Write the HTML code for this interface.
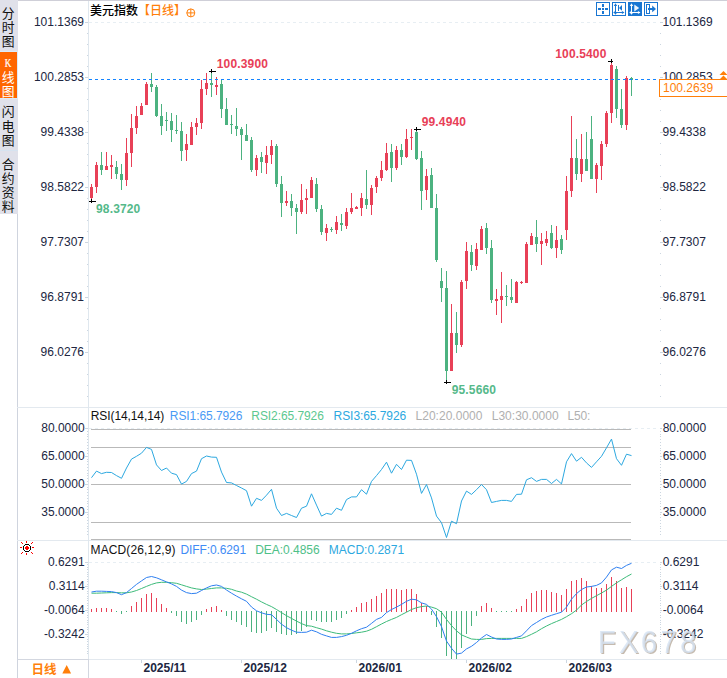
<!DOCTYPE html>
<html lang="zh"><head><meta charset="utf-8"><title>chart</title><style>html,body{margin:0;padding:0;background:#fff}</style></head><body><svg width="727" height="678" viewBox="0 0 727 678" style="display:block;font-family:'Liberation Sans',sans-serif">
<rect width="727" height="678" fill="#fff"/>
<rect x="0" y="0" width="727" height="1" fill="#cfcfd8"/>
<g shape-rendering="crispEdges">
<rect x="0" y="0" width="18" height="214" fill="#e0e1ea"/>
<rect x="0" y="51" width="18" height="1" fill="#dcebf8"/>
<rect x="0" y="52" width="17" height="46" fill="#ff6600"/>
<rect x="17" y="52" width="1" height="46" fill="#dcebf8"/>
<rect x="0" y="98" width="18" height="1" fill="#dcebf8"/>
<rect x="0" y="150" width="18" height="1" fill="#d6e3f0"/>
<rect x="17" y="214" width="1" height="464" fill="#cfd4de"/>
<rect x="17" y="407" width="710" height="1" fill="#e3e9ef"/>
<rect x="17" y="540" width="710" height="1" fill="#e3e9ef"/>
<rect x="17" y="659" width="710" height="1" fill="#e3e9ef"/>
<rect x="88" y="1" width="1" height="677" fill="#dfe7ee"/>
</g>
<g font-family="'Liberation Sans','Noto Sans CJK SC',sans-serif" font-size="12.8" fill="#111">
<text x="1.7" y="18.3">分</text>
<text x="1.7" y="31.9">时</text>
<text x="1.7" y="46">图</text>
<text x="1.7" y="81.8" fill="#fff">线</text>
<text x="1.7" y="95.8" fill="#fff">图</text>
</g>
<text transform="translate(8.1,67) scale(0.74,1)" x="0" y="0" font-family="'Liberation Serif',serif" font-size="12.3" fill="#fff" stroke="#fff" stroke-width="0.25" text-anchor="middle">K</text>
<g font-family="'Liberation Sans','Noto Sans CJK SC',sans-serif" font-size="12.8" fill="#111">
<text x="1.7" y="116">闪</text>
<text x="1.7" y="130.6">电</text>
<text x="1.7" y="144.9">图</text>
<text x="1.7" y="168.8">合</text>
<text x="1.7" y="183">约</text>
<text x="1.7" y="197">资</text>
<text x="1.7" y="211">料</text>
</g>
<text x="90" y="15" font-family="'Liberation Sans','Noto Sans CJK SC',sans-serif" font-size="12" font-weight="500" fill="#000">美元指数</text>
<text x="138" y="15" font-family="'Liberation Sans','Noto Sans CJK SC',sans-serif" font-size="12" font-weight="500" fill="#ff7f0a">【日线】</text>
<g stroke="#ff7f0a" stroke-width="1" fill="none"><circle cx="190.8" cy="12.9" r="4"/><path d="M186.8 12.9H194.8M190.8 8.9V16.9"/></g>
<rect x="596.5" y="2.5" width="13" height="13" fill="#fff" stroke="#1976d2" stroke-width="1"/>
<rect x="612.5" y="2.5" width="13" height="13" fill="#fff" stroke="#1976d2" stroke-width="1"/>
<rect x="628" y="2" width="14" height="14" fill="#1976d2"/>
<rect x="644.5" y="2.5" width="13" height="13" fill="#fff" stroke="#1976d2" stroke-width="1"/>
<g fill="#1976d2" shape-rendering="crispEdges"><rect x="602" y="4" width="2" height="3"/><rect x="602" y="11" width="2" height="3"/><rect x="598" y="8" width="3" height="2"/><rect x="605" y="8" width="3" height="2"/><rect x="602" y="8" width="2" height="2"/></g>
<g fill="#1976d2"><rect x="615" y="4" width="1" height="10" shape-rendering="crispEdges"/><rect x="614" y="12" width="10" height="1" shape-rendering="crispEdges"/><path d="M615.5 3.3L617.2 5.9H613.8Z M624.5 12.5L621.9 10.9V14.1Z M615.5 14.8L614.2 13H616.8Z M613.2 12.5L615 11.2V13.8Z"/></g>
<g fill="#1976d2"><rect x="618" y="5" width="1" height="6" shape-rendering="crispEdges"/><path d="M619 7.9L622 5V10.8Z"/></g>
<g fill="#fff"><rect x="631" y="4" width="1" height="10" shape-rendering="crispEdges"/><rect x="630" y="12" width="10" height="1" shape-rendering="crispEdges"/><path d="M631.5 3.3L633.2 5.9H629.8Z M640.5 12.5L637.9 10.9V14.1Z M631.5 14.8L630.2 13H632.8Z M629.2 12.5L631 11.2V13.8Z"/></g>
<path d="M634.3 4.4V11.6L639.2 8Z" fill="#fff" opacity="0.92"/>
<g shape-rendering="crispEdges"><rect x="646.5" y="4.5" width="3" height="9" fill="none" stroke="#1976d2" stroke-width="1"/><rect x="648" y="8" width="5" height="2" fill="#1976d2"/></g><path d="M652.2 5.5V12.2L656 8.9Z" fill="#1976d2"/>
<path d="M89 22.5H659" stroke="#e7eef3" stroke-width="1" stroke-dasharray="3 3" fill="none"/>
<path d="M89 562.5H659" stroke="#e7eef3" stroke-width="1" stroke-dasharray="3 3" fill="none"/>
<path d="M89 428.5H659" stroke="#e7eef3" stroke-width="1" stroke-dasharray="3 3" fill="none"/>
<g fill="#ccd6e0" shape-rendering="crispEdges">
<rect x="85" y="22" width="3" height="1"/><rect x="660" y="22" width="3" height="1"/>
<rect x="87" y="33" width="1" height="1"/><rect x="660" y="33" width="1" height="1"/>
<rect x="87" y="44" width="1" height="1"/><rect x="660" y="44" width="1" height="1"/>
<rect x="87" y="55" width="1" height="1"/><rect x="660" y="55" width="1" height="1"/>
<rect x="87" y="66" width="1" height="1"/><rect x="660" y="66" width="1" height="1"/>
<rect x="85" y="77" width="3" height="1"/><rect x="660" y="77" width="3" height="1"/>
<rect x="87" y="88" width="1" height="1"/><rect x="660" y="88" width="1" height="1"/>
<rect x="87" y="99" width="1" height="1"/><rect x="660" y="99" width="1" height="1"/>
<rect x="87" y="110" width="1" height="1"/><rect x="660" y="110" width="1" height="1"/>
<rect x="87" y="121" width="1" height="1"/><rect x="660" y="121" width="1" height="1"/>
<rect x="85" y="132" width="3" height="1"/><rect x="660" y="132" width="3" height="1"/>
<rect x="87" y="143" width="1" height="1"/><rect x="660" y="143" width="1" height="1"/>
<rect x="87" y="154" width="1" height="1"/><rect x="660" y="154" width="1" height="1"/>
<rect x="87" y="165" width="1" height="1"/><rect x="660" y="165" width="1" height="1"/>
<rect x="87" y="176" width="1" height="1"/><rect x="660" y="176" width="1" height="1"/>
<rect x="85" y="187" width="3" height="1"/><rect x="660" y="187" width="3" height="1"/>
<rect x="87" y="198" width="1" height="1"/><rect x="660" y="198" width="1" height="1"/>
<rect x="87" y="209" width="1" height="1"/><rect x="660" y="209" width="1" height="1"/>
<rect x="87" y="220" width="1" height="1"/><rect x="660" y="220" width="1" height="1"/>
<rect x="87" y="231" width="1" height="1"/><rect x="660" y="231" width="1" height="1"/>
<rect x="85" y="242" width="3" height="1"/><rect x="660" y="242" width="3" height="1"/>
<rect x="87" y="253" width="1" height="1"/><rect x="660" y="253" width="1" height="1"/>
<rect x="87" y="264" width="1" height="1"/><rect x="660" y="264" width="1" height="1"/>
<rect x="87" y="275" width="1" height="1"/><rect x="660" y="275" width="1" height="1"/>
<rect x="87" y="286" width="1" height="1"/><rect x="660" y="286" width="1" height="1"/>
<rect x="85" y="297" width="3" height="1"/><rect x="660" y="297" width="3" height="1"/>
<rect x="87" y="308" width="1" height="1"/><rect x="660" y="308" width="1" height="1"/>
<rect x="87" y="319" width="1" height="1"/><rect x="660" y="319" width="1" height="1"/>
<rect x="87" y="330" width="1" height="1"/><rect x="660" y="330" width="1" height="1"/>
<rect x="87" y="341" width="1" height="1"/><rect x="660" y="341" width="1" height="1"/>
<rect x="85" y="352" width="3" height="1"/><rect x="660" y="352" width="3" height="1"/>
<rect x="87" y="363" width="1" height="1"/><rect x="660" y="363" width="1" height="1"/>
<rect x="87" y="374" width="1" height="1"/><rect x="660" y="374" width="1" height="1"/>
<rect x="87" y="385" width="1" height="1"/><rect x="660" y="385" width="1" height="1"/>
<rect x="87" y="396" width="1" height="1"/><rect x="660" y="396" width="1" height="1"/>
</g>
<g font-size="12" fill="#20263f">
<text x="84" y="26" text-anchor="end">101.1369</text>
<text x="662.5" y="26">101.1369</text>
<text x="84" y="81" text-anchor="end">100.2853</text>
<text x="662.5" y="81">100.2853</text>
<text x="84" y="136" text-anchor="end">99.4338</text>
<text x="662.5" y="136">99.4338</text>
<text x="84" y="191" text-anchor="end">98.5822</text>
<text x="662.5" y="191">98.5822</text>
<text x="84" y="246" text-anchor="end">97.7307</text>
<text x="662.5" y="246">97.7307</text>
<text x="84" y="301" text-anchor="end">96.8791</text>
<text x="662.5" y="301">96.8791</text>
<text x="84" y="356" text-anchor="end">96.0276</text>
<text x="662.5" y="356">96.0276</text>
</g>
<g shape-rendering="crispEdges">
<rect x="91" y="184" width="1" height="17" fill="#e84057"/><rect x="90" y="187" width="3" height="11" fill="#e84057"/>
<rect x="96" y="162" width="1" height="31" fill="#e84057"/><rect x="95" y="165" width="3" height="22" fill="#e84057"/>
<rect x="101" y="152" width="1" height="23" fill="#4cb280"/><rect x="100" y="165" width="3" height="5" fill="#4cb280"/>
<rect x="106" y="152" width="1" height="18" fill="#e84057"/><rect x="105" y="166" width="3" height="4" fill="#e84057"/>
<rect x="111" y="155" width="1" height="24" fill="#e84057"/><rect x="110" y="165" width="3" height="2" fill="#e84057"/>
<rect x="116" y="161" width="1" height="18" fill="#4cb280"/><rect x="115" y="167" width="3" height="7" fill="#4cb280"/>
<rect x="121" y="164" width="1" height="26" fill="#4cb280"/><rect x="120" y="174" width="3" height="6" fill="#4cb280"/>
<rect x="126" y="138" width="1" height="48" fill="#e84057"/><rect x="125" y="153" width="3" height="27" fill="#e84057"/>
<rect x="131" y="114" width="1" height="53" fill="#e84057"/><rect x="130" y="128" width="3" height="25" fill="#e84057"/>
<rect x="136" y="106" width="1" height="28" fill="#e84057"/><rect x="135" y="116" width="3" height="12" fill="#e84057"/>
<rect x="141" y="103" width="1" height="12" fill="#e84057"/><rect x="140" y="106" width="3" height="9" fill="#e84057"/>
<rect x="146" y="82" width="1" height="23" fill="#e84057"/><rect x="145" y="84" width="3" height="21" fill="#e84057"/>
<rect x="151" y="73" width="1" height="19" fill="#4cb280"/><rect x="150" y="84" width="3" height="3" fill="#4cb280"/>
<rect x="156" y="85" width="1" height="32" fill="#4cb280"/><rect x="155" y="87" width="3" height="29" fill="#4cb280"/>
<rect x="161" y="104" width="1" height="31" fill="#4cb280"/><rect x="160" y="116" width="3" height="10" fill="#4cb280"/>
<rect x="166" y="112" width="1" height="19" fill="#4cb280"/><rect x="165" y="120" width="3" height="1" fill="#4cb280"/>
<rect x="171" y="113" width="1" height="29" fill="#4cb280"/><rect x="170" y="121" width="3" height="9" fill="#4cb280"/>
<rect x="176" y="115" width="1" height="19" fill="#4cb280"/><rect x="175" y="130" width="3" height="1" fill="#4cb280"/>
<rect x="181" y="122" width="1" height="39" fill="#4cb280"/><rect x="180" y="131" width="3" height="20" fill="#4cb280"/>
<rect x="186" y="134" width="1" height="27" fill="#e84057"/><rect x="185" y="144" width="3" height="6" fill="#e84057"/>
<rect x="191" y="122" width="1" height="23" fill="#e84057"/><rect x="190" y="127" width="3" height="18" fill="#e84057"/>
<rect x="196" y="118" width="1" height="17" fill="#e84057"/><rect x="195" y="123" width="3" height="4" fill="#e84057"/>
<rect x="201" y="80" width="1" height="49" fill="#e84057"/><rect x="200" y="89" width="3" height="34" fill="#e84057"/>
<rect x="206" y="73" width="1" height="22" fill="#e84057"/><rect x="205" y="83" width="3" height="6" fill="#e84057"/>
<rect x="211" y="71" width="1" height="26" fill="#4cb280"/><rect x="210" y="83" width="3" height="2" fill="#4cb280"/>
<rect x="216" y="77" width="1" height="18" fill="#e84057"/><rect x="215" y="85" width="3" height="2" fill="#e84057"/>
<rect x="221" y="80" width="1" height="38" fill="#4cb280"/><rect x="220" y="84" width="3" height="25" fill="#4cb280"/>
<rect x="226" y="98" width="1" height="27" fill="#4cb280"/><rect x="225" y="109" width="3" height="16" fill="#4cb280"/>
<rect x="231" y="115" width="1" height="19" fill="#4cb280"/><rect x="230" y="124" width="3" height="1" fill="#4cb280"/>
<rect x="236" y="108" width="1" height="28" fill="#4cb280"/><rect x="235" y="126" width="3" height="3" fill="#4cb280"/>
<rect x="241" y="127" width="1" height="33" fill="#4cb280"/><rect x="240" y="129" width="3" height="6" fill="#4cb280"/>
<rect x="246" y="124" width="1" height="17" fill="#4cb280"/><rect x="245" y="135" width="3" height="6" fill="#4cb280"/>
<rect x="251" y="137" width="1" height="35" fill="#4cb280"/><rect x="250" y="140" width="3" height="30" fill="#4cb280"/>
<rect x="256" y="155" width="1" height="21" fill="#e84057"/><rect x="255" y="158" width="3" height="12" fill="#e84057"/>
<rect x="261" y="152" width="1" height="21" fill="#4cb280"/><rect x="260" y="157" width="3" height="5" fill="#4cb280"/>
<rect x="266" y="146" width="1" height="28" fill="#e84057"/><rect x="265" y="155" width="3" height="8" fill="#e84057"/>
<rect x="271" y="140" width="1" height="24" fill="#e84057"/><rect x="270" y="146" width="3" height="9" fill="#e84057"/>
<rect x="276" y="144" width="1" height="43" fill="#4cb280"/><rect x="275" y="146" width="3" height="38" fill="#4cb280"/>
<rect x="281" y="176" width="1" height="41" fill="#4cb280"/><rect x="280" y="184" width="3" height="19" fill="#4cb280"/>
<rect x="286" y="191" width="1" height="15" fill="#e84057"/><rect x="285" y="201" width="3" height="2" fill="#e84057"/>
<rect x="291" y="194" width="1" height="22" fill="#4cb280"/><rect x="290" y="201" width="3" height="7" fill="#4cb280"/>
<rect x="296" y="204" width="1" height="30" fill="#4cb280"/><rect x="295" y="208" width="3" height="4" fill="#4cb280"/>
<rect x="301" y="184" width="1" height="30" fill="#e84057"/><rect x="300" y="200" width="3" height="12" fill="#e84057"/>
<rect x="306" y="189" width="1" height="25" fill="#e84057"/><rect x="305" y="198" width="3" height="2" fill="#e84057"/>
<rect x="311" y="177" width="1" height="21" fill="#e84057"/><rect x="310" y="180" width="3" height="18" fill="#e84057"/>
<rect x="316" y="178" width="1" height="34" fill="#4cb280"/><rect x="315" y="184" width="3" height="25" fill="#4cb280"/>
<rect x="321" y="205" width="1" height="30" fill="#4cb280"/><rect x="320" y="209" width="3" height="23" fill="#4cb280"/>
<rect x="326" y="224" width="1" height="17" fill="#e84057"/><rect x="325" y="228" width="3" height="5" fill="#e84057"/>
<rect x="331" y="227" width="1" height="5" fill="#4cb280"/><rect x="330" y="229" width="3" height="1" fill="#4cb280"/>
<rect x="336" y="216" width="1" height="18" fill="#e84057"/><rect x="335" y="222" width="3" height="8" fill="#e84057"/>
<rect x="341" y="214" width="1" height="17" fill="#4cb280"/><rect x="340" y="223" width="3" height="2" fill="#4cb280"/>
<rect x="346" y="208" width="1" height="21" fill="#e84057"/><rect x="345" y="212" width="3" height="14" fill="#e84057"/>
<rect x="351" y="193" width="1" height="21" fill="#e84057"/><rect x="350" y="208" width="3" height="4" fill="#e84057"/>
<rect x="356" y="206" width="1" height="3" fill="#e84057"/><rect x="355" y="207" width="3" height="2" fill="#e84057"/>
<rect x="361" y="193" width="1" height="23" fill="#e84057"/><rect x="360" y="198" width="3" height="10" fill="#e84057"/>
<rect x="366" y="170" width="1" height="39" fill="#4cb280"/><rect x="365" y="199" width="3" height="6" fill="#4cb280"/>
<rect x="371" y="185" width="1" height="30" fill="#e84057"/><rect x="370" y="188" width="3" height="17" fill="#e84057"/>
<rect x="376" y="176" width="1" height="17" fill="#e84057"/><rect x="375" y="178" width="3" height="9" fill="#e84057"/>
<rect x="381" y="161" width="1" height="20" fill="#e84057"/><rect x="380" y="170" width="3" height="8" fill="#e84057"/>
<rect x="386" y="143" width="1" height="28" fill="#e84057"/><rect x="385" y="153" width="3" height="17" fill="#e84057"/>
<rect x="391" y="144" width="1" height="38" fill="#4cb280"/><rect x="390" y="152" width="3" height="16" fill="#4cb280"/>
<rect x="396" y="146" width="1" height="24" fill="#e84057"/><rect x="395" y="150" width="3" height="18" fill="#e84057"/>
<rect x="401" y="144" width="1" height="21" fill="#4cb280"/><rect x="400" y="150" width="3" height="7" fill="#4cb280"/>
<rect x="406" y="129" width="1" height="29" fill="#e84057"/><rect x="405" y="139" width="3" height="18" fill="#e84057"/>
<rect x="411" y="129" width="1" height="21" fill="#e84057"/><rect x="410" y="137" width="3" height="1" fill="#e84057"/>
<rect x="416" y="130" width="1" height="30" fill="#4cb280"/><rect x="415" y="132" width="3" height="27" fill="#4cb280"/>
<rect x="421" y="151" width="1" height="59" fill="#4cb280"/><rect x="420" y="158" width="3" height="33" fill="#4cb280"/>
<rect x="426" y="169" width="1" height="31" fill="#e84057"/><rect x="425" y="176" width="3" height="14" fill="#e84057"/>
<rect x="431" y="168" width="1" height="40" fill="#4cb280"/><rect x="430" y="175" width="3" height="33" fill="#4cb280"/>
<rect x="436" y="194" width="1" height="68" fill="#4cb280"/><rect x="435" y="208" width="3" height="52" fill="#4cb280"/>
<rect x="441" y="268" width="1" height="34" fill="#4cb280"/><rect x="440" y="281" width="3" height="7" fill="#4cb280"/>
<rect x="446" y="271" width="1" height="111" fill="#4cb280"/><rect x="445" y="288" width="3" height="83" fill="#4cb280"/>
<rect x="451" y="304" width="1" height="67" fill="#e84057"/><rect x="450" y="333" width="3" height="38" fill="#e84057"/>
<rect x="456" y="312" width="1" height="41" fill="#4cb280"/><rect x="455" y="333" width="3" height="12" fill="#4cb280"/>
<rect x="461" y="280" width="1" height="67" fill="#e84057"/><rect x="460" y="282" width="3" height="63" fill="#e84057"/>
<rect x="466" y="242" width="1" height="47" fill="#e84057"/><rect x="465" y="251" width="3" height="30" fill="#e84057"/>
<rect x="471" y="245" width="1" height="26" fill="#4cb280"/><rect x="470" y="252" width="3" height="13" fill="#4cb280"/>
<rect x="476" y="243" width="1" height="27" fill="#e84057"/><rect x="475" y="249" width="3" height="17" fill="#e84057"/>
<rect x="481" y="226" width="1" height="24" fill="#e84057"/><rect x="480" y="229" width="3" height="21" fill="#e84057"/>
<rect x="486" y="223" width="1" height="31" fill="#4cb280"/><rect x="485" y="228" width="3" height="20" fill="#4cb280"/>
<rect x="491" y="240" width="1" height="63" fill="#4cb280"/><rect x="490" y="248" width="3" height="52" fill="#4cb280"/>
<rect x="496" y="289" width="1" height="26" fill="#e84057"/><rect x="495" y="299" width="3" height="2" fill="#e84057"/>
<rect x="501" y="272" width="1" height="51" fill="#e84057"/><rect x="500" y="296" width="3" height="4" fill="#e84057"/>
<rect x="506" y="285" width="1" height="21" fill="#4cb280"/><rect x="505" y="296" width="3" height="1" fill="#4cb280"/>
<rect x="511" y="279" width="1" height="24" fill="#4cb280"/><rect x="510" y="297" width="3" height="3" fill="#4cb280"/>
<rect x="516" y="281" width="1" height="22" fill="#e84057"/><rect x="515" y="282" width="3" height="21" fill="#e84057"/>
<rect x="521" y="281" width="1" height="3" fill="#e84057"/><rect x="520" y="282" width="3" height="1" fill="#e84057"/>
<rect x="526" y="242" width="1" height="41" fill="#e84057"/><rect x="525" y="244" width="3" height="39" fill="#e84057"/>
<rect x="531" y="233" width="1" height="12" fill="#e84057"/><rect x="530" y="236" width="3" height="9" fill="#e84057"/>
<rect x="536" y="220" width="1" height="32" fill="#4cb280"/><rect x="535" y="237" width="3" height="7" fill="#4cb280"/>
<rect x="541" y="233" width="1" height="32" fill="#e84057"/><rect x="540" y="241" width="3" height="3" fill="#e84057"/>
<rect x="546" y="231" width="1" height="15" fill="#e84057"/><rect x="545" y="239" width="3" height="4" fill="#e84057"/>
<rect x="551" y="225" width="1" height="24" fill="#4cb280"/><rect x="550" y="233" width="3" height="15" fill="#4cb280"/>
<rect x="556" y="226" width="1" height="32" fill="#e84057"/><rect x="555" y="240" width="3" height="8" fill="#e84057"/>
<rect x="561" y="235" width="1" height="19" fill="#4cb280"/><rect x="560" y="239" width="3" height="11" fill="#4cb280"/>
<rect x="566" y="176" width="1" height="64" fill="#e84057"/><rect x="565" y="191" width="3" height="39" fill="#e84057"/>
<rect x="571" y="116" width="1" height="81" fill="#e84057"/><rect x="570" y="158" width="3" height="33" fill="#e84057"/>
<rect x="576" y="139" width="1" height="41" fill="#4cb280"/><rect x="575" y="158" width="3" height="16" fill="#4cb280"/>
<rect x="581" y="134" width="1" height="48" fill="#e84057"/><rect x="580" y="159" width="3" height="15" fill="#e84057"/>
<rect x="586" y="132" width="1" height="39" fill="#4cb280"/><rect x="585" y="159" width="3" height="12" fill="#4cb280"/>
<rect x="591" y="116" width="1" height="63" fill="#4cb280"/><rect x="590" y="139" width="3" height="40" fill="#4cb280"/>
<rect x="596" y="163" width="1" height="30" fill="#e84057"/><rect x="595" y="165" width="3" height="14" fill="#e84057"/>
<rect x="601" y="141" width="1" height="39" fill="#e84057"/><rect x="600" y="144" width="3" height="22" fill="#e84057"/>
<rect x="606" y="111" width="1" height="36" fill="#e84057"/><rect x="605" y="113" width="3" height="31" fill="#e84057"/>
<rect x="611" y="61" width="1" height="62" fill="#e84057"/><rect x="610" y="65" width="3" height="48" fill="#e84057"/>
<rect x="616" y="66" width="1" height="52" fill="#4cb280"/><rect x="615" y="69" width="3" height="40" fill="#4cb280"/>
<rect x="621" y="89" width="1" height="39" fill="#4cb280"/><rect x="620" y="109" width="3" height="16" fill="#4cb280"/>
<rect x="626" y="76" width="1" height="54" fill="#e84057"/><rect x="625" y="78" width="3" height="47" fill="#e84057"/>
<rect x="631" y="77" width="1" height="19" fill="#4cb280"/><rect x="630" y="78" width="3" height="2" fill="#4cb280"/>
</g>
<path d="M89 79.5H657" stroke="#1484ff" stroke-width="1" stroke-dasharray="3 3" fill="none" shape-rendering="crispEdges"/>
<rect x="659.5" y="79.5" width="70" height="17" fill="#fff" stroke="#ff7f0a" stroke-width="1"/>
<text x="663" y="92" font-size="12" fill="#ff7f0a">100.2639</text>
<path d="M719.5 75L723.5 71L727.5 75Z M719.5 79.4L723.5 75.4L727.5 79.4Z" fill="#ff7f0a"/>
<g fill="#000" shape-rendering="crispEdges"><rect x="89" y="201" width="7" height="1"/><rect x="91" y="199" width="1" height="4"/></g>
<text x="96" y="212.6" font-size="12" font-weight="bold" letter-spacing="0.15" fill="#55b98a" text-anchor="start" stroke="#fff" stroke-width="2" stroke-opacity="0.7" paint-order="stroke">98.3720</text>
<g fill="#000" shape-rendering="crispEdges"><rect x="209" y="71" width="7" height="1"/><rect x="211" y="69" width="1" height="4"/></g>
<text x="216.8" y="67.8" font-size="12" font-weight="bold" letter-spacing="0.15" fill="#e84057" text-anchor="start" stroke="#fff" stroke-width="2" stroke-opacity="0.7" paint-order="stroke">100.3900</text>
<g fill="#000" shape-rendering="crispEdges"><rect x="414" y="129" width="7" height="1"/><rect x="416" y="127" width="1" height="4"/></g>
<text x="421.7" y="125.5" font-size="12" font-weight="bold" letter-spacing="0.15" fill="#e84057" text-anchor="start" stroke="#fff" stroke-width="2" stroke-opacity="0.7" paint-order="stroke">99.4940</text>
<g fill="#000" shape-rendering="crispEdges"><rect x="444" y="382" width="7" height="1"/><rect x="446" y="380" width="1" height="4"/></g>
<text x="451.7" y="394" font-size="12" font-weight="bold" letter-spacing="0.15" fill="#55b98a" text-anchor="start" stroke="#fff" stroke-width="2" stroke-opacity="0.7" paint-order="stroke">95.5660</text>
<g fill="#000" shape-rendering="crispEdges"><rect x="608" y="61" width="5" height="1"/><rect x="611" y="59" width="1" height="4"/></g>
<text x="606.5" y="57.7" font-size="12" font-weight="bold" letter-spacing="0.15" fill="#e84057" text-anchor="end" stroke="#fff" stroke-width="2" stroke-opacity="0.7" paint-order="stroke">100.5400</text>
<g fill="#b9b9b9" shape-rendering="crispEdges">
<rect x="91" y="429" width="540" height="1"/>
<rect x="91" y="447" width="540" height="1"/>
<rect x="91" y="484" width="540" height="1"/>
<rect x="91" y="522" width="540" height="1"/>
<rect x="91" y="539" width="540" height="1"/>
</g>
<polyline points="91.5,477.7 96.5,471.1 101.5,473.6 106.5,472.3 111.5,472.5 116.5,475.6 121.5,478.3 126.5,468.0 131.5,459.1 136.5,456.3 141.5,453.2 146.5,447.4 151.5,449.4 156.5,464.9 161.5,470.5 166.5,468.0 171.5,473.2 176.5,474.6 181.5,484.1 186.5,481.4 191.5,473.6 196.5,471.1 201.5,458.7 206.5,456.0 211.5,457.1 216.5,457.3 221.5,472.1 226.5,482.5 231.5,482.9 236.5,485.5 241.5,488.0 246.5,490.7 251.5,506.2 256.5,498.3 261.5,500.4 266.5,495.2 271.5,489.3 276.5,508.2 281.5,515.5 286.5,513.4 291.5,515.5 296.5,517.5 301.5,508.2 306.5,506.2 311.5,493.8 316.5,505.1 321.5,516.1 326.5,513.4 331.5,514.4 336.5,508.2 341.5,510.3 346.5,499.6 351.5,496.9 356.5,496.9 361.5,489.7 366.5,494.2 371.5,481.4 376.5,475.6 381.5,469.5 386.5,462.2 391.5,473.2 396.5,464.3 401.5,469.5 406.5,460.2 411.5,460.4 416.5,474.2 421.5,493.4 426.5,484.5 431.5,497.9 436.5,516.1 441.5,522.7 446.5,537.5 451.5,521.2 456.5,523.7 461.5,501.0 466.5,491.1 471.5,494.4 476.5,489.7 481.5,484.5 486.5,489.7 491.5,502.5 496.5,501.4 501.5,500.4 506.5,500.4 511.5,501.4 516.5,494.4 521.5,494.2 526.5,479.8 531.5,477.7 536.5,481.4 541.5,479.4 546.5,479.4 551.5,483.5 556.5,479.4 561.5,483.9 566.5,461.8 571.5,453.6 576.5,461.2 581.5,457.3 586.5,462.9 591.5,467.4 596.5,461.8 601.5,456.3 606.5,447.8 611.5,439.1 616.5,458.7 621.5,465.3 626.5,454.2 631.5,455.6" fill="none" stroke="#2ca8e0" stroke-width="1" stroke-linejoin="round"/>
<g font-size="12" fill="#20263f">
<text x="84.6" y="432" text-anchor="end">80.0000</text><text x="662.7" y="432">80.0000</text>
<text x="84.6" y="460" text-anchor="end">65.0000</text><text x="662.7" y="460">65.0000</text>
<text x="84.6" y="488" text-anchor="end">50.0000</text><text x="662.7" y="488">50.0000</text>
<text x="84.6" y="516" text-anchor="end">35.0000</text><text x="662.7" y="516">35.0000</text>
</g>
<g fill="#ccd6e0" shape-rendering="crispEdges">
<rect x="85" y="428" width="3" height="1"/><rect x="660" y="428" width="2" height="1"/>
<rect x="85" y="456" width="3" height="1"/><rect x="660" y="456" width="2" height="1"/>
<rect x="85" y="484" width="3" height="1"/><rect x="660" y="484" width="2" height="1"/>
<rect x="85" y="512" width="3" height="1"/><rect x="660" y="512" width="2" height="1"/>
</g>
<g font-size="12">
<text x="90.8" y="420.4" fill="#111" textLength="73.5">RSI(14,14,14)</text>
<text x="169.8" y="420.4" fill="#4a9af5" textLength="72.6">RSI1:65.7926</text>
<text x="251.3" y="420.4" fill="#5cc890" textLength="72.6">RSI2:65.7926</text>
<text x="333.6" y="420.4" fill="#2ca8e0" textLength="72.6">RSI3:65.7926</text>
<text x="415.5" y="420.4" fill="#b0b0b0" textLength="67">L20:20.0000</text>
<text x="491.7" y="420.4" fill="#b0b0b0" textLength="67">L30:30.0000</text>
<text x="567.5" y="420.4" fill="#b0b0b0" textLength="22.8">L50:</text>
</g>
<g fill="#ccd6e0" shape-rendering="crispEdges">
<rect x="87" y="428.00" width="1" height="1"/><rect x="660" y="428.00" width="1" height="1"/>
<rect x="87" y="430.79" width="1" height="1"/><rect x="660" y="430.79" width="1" height="1"/>
<rect x="87" y="433.58" width="1" height="1"/><rect x="660" y="433.58" width="1" height="1"/>
<rect x="87" y="436.37" width="1" height="1"/><rect x="660" y="436.37" width="1" height="1"/>
<rect x="87" y="439.16" width="1" height="1"/><rect x="660" y="439.16" width="1" height="1"/>
<rect x="87" y="441.95" width="1" height="1"/><rect x="660" y="441.95" width="1" height="1"/>
<rect x="87" y="444.74" width="1" height="1"/><rect x="660" y="444.74" width="1" height="1"/>
<rect x="87" y="447.53" width="1" height="1"/><rect x="660" y="447.53" width="1" height="1"/>
<rect x="87" y="450.32" width="1" height="1"/><rect x="660" y="450.32" width="1" height="1"/>
<rect x="87" y="453.11" width="1" height="1"/><rect x="660" y="453.11" width="1" height="1"/>
<rect x="87" y="455.90" width="1" height="1"/><rect x="660" y="455.90" width="1" height="1"/>
<rect x="87" y="458.69" width="1" height="1"/><rect x="660" y="458.69" width="1" height="1"/>
<rect x="87" y="461.48" width="1" height="1"/><rect x="660" y="461.48" width="1" height="1"/>
<rect x="87" y="464.27" width="1" height="1"/><rect x="660" y="464.27" width="1" height="1"/>
<rect x="87" y="467.06" width="1" height="1"/><rect x="660" y="467.06" width="1" height="1"/>
<rect x="87" y="469.85" width="1" height="1"/><rect x="660" y="469.85" width="1" height="1"/>
<rect x="87" y="472.64" width="1" height="1"/><rect x="660" y="472.64" width="1" height="1"/>
<rect x="87" y="475.43" width="1" height="1"/><rect x="660" y="475.43" width="1" height="1"/>
<rect x="87" y="478.22" width="1" height="1"/><rect x="660" y="478.22" width="1" height="1"/>
<rect x="87" y="481.01" width="1" height="1"/><rect x="660" y="481.01" width="1" height="1"/>
<rect x="87" y="483.80" width="1" height="1"/><rect x="660" y="483.80" width="1" height="1"/>
<rect x="87" y="486.59" width="1" height="1"/><rect x="660" y="486.59" width="1" height="1"/>
<rect x="87" y="489.38" width="1" height="1"/><rect x="660" y="489.38" width="1" height="1"/>
<rect x="87" y="492.17" width="1" height="1"/><rect x="660" y="492.17" width="1" height="1"/>
<rect x="87" y="494.96" width="1" height="1"/><rect x="660" y="494.96" width="1" height="1"/>
<rect x="87" y="497.75" width="1" height="1"/><rect x="660" y="497.75" width="1" height="1"/>
<rect x="87" y="500.54" width="1" height="1"/><rect x="660" y="500.54" width="1" height="1"/>
<rect x="87" y="503.33" width="1" height="1"/><rect x="660" y="503.33" width="1" height="1"/>
<rect x="87" y="506.12" width="1" height="1"/><rect x="660" y="506.12" width="1" height="1"/>
<rect x="87" y="508.91" width="1" height="1"/><rect x="660" y="508.91" width="1" height="1"/>
<rect x="87" y="511.70" width="1" height="1"/><rect x="660" y="511.70" width="1" height="1"/>
<rect x="87" y="514.49" width="1" height="1"/><rect x="660" y="514.49" width="1" height="1"/>
<rect x="87" y="517.28" width="1" height="1"/><rect x="660" y="517.28" width="1" height="1"/>
<rect x="87" y="520.07" width="1" height="1"/><rect x="660" y="520.07" width="1" height="1"/>
<rect x="87" y="522.86" width="1" height="1"/><rect x="660" y="522.86" width="1" height="1"/>
<rect x="87" y="525.65" width="1" height="1"/><rect x="660" y="525.65" width="1" height="1"/>
<rect x="87" y="528.44" width="1" height="1"/><rect x="660" y="528.44" width="1" height="1"/>
<rect x="87" y="531.23" width="1" height="1"/><rect x="660" y="531.23" width="1" height="1"/>
<rect x="87" y="534.02" width="1" height="1"/><rect x="660" y="534.02" width="1" height="1"/>
<rect x="87" y="562.00" width="1" height="1"/><rect x="660" y="562.00" width="1" height="1"/>
<rect x="87" y="564.40" width="1" height="1"/><rect x="660" y="564.40" width="1" height="1"/>
<rect x="87" y="566.80" width="1" height="1"/><rect x="660" y="566.80" width="1" height="1"/>
<rect x="87" y="569.20" width="1" height="1"/><rect x="660" y="569.20" width="1" height="1"/>
<rect x="87" y="571.60" width="1" height="1"/><rect x="660" y="571.60" width="1" height="1"/>
<rect x="87" y="574.00" width="1" height="1"/><rect x="660" y="574.00" width="1" height="1"/>
<rect x="87" y="576.40" width="1" height="1"/><rect x="660" y="576.40" width="1" height="1"/>
<rect x="87" y="578.80" width="1" height="1"/><rect x="660" y="578.80" width="1" height="1"/>
<rect x="87" y="581.20" width="1" height="1"/><rect x="660" y="581.20" width="1" height="1"/>
<rect x="87" y="583.60" width="1" height="1"/><rect x="660" y="583.60" width="1" height="1"/>
<rect x="87" y="586.00" width="1" height="1"/><rect x="660" y="586.00" width="1" height="1"/>
<rect x="87" y="588.40" width="1" height="1"/><rect x="660" y="588.40" width="1" height="1"/>
<rect x="87" y="590.80" width="1" height="1"/><rect x="660" y="590.80" width="1" height="1"/>
<rect x="87" y="593.20" width="1" height="1"/><rect x="660" y="593.20" width="1" height="1"/>
<rect x="87" y="595.60" width="1" height="1"/><rect x="660" y="595.60" width="1" height="1"/>
<rect x="87" y="598.00" width="1" height="1"/><rect x="660" y="598.00" width="1" height="1"/>
<rect x="87" y="600.40" width="1" height="1"/><rect x="660" y="600.40" width="1" height="1"/>
<rect x="87" y="602.80" width="1" height="1"/><rect x="660" y="602.80" width="1" height="1"/>
<rect x="87" y="605.20" width="1" height="1"/><rect x="660" y="605.20" width="1" height="1"/>
<rect x="87" y="607.60" width="1" height="1"/><rect x="660" y="607.60" width="1" height="1"/>
<rect x="87" y="610.00" width="1" height="1"/><rect x="660" y="610.00" width="1" height="1"/>
<rect x="87" y="612.40" width="1" height="1"/><rect x="660" y="612.40" width="1" height="1"/>
<rect x="87" y="614.80" width="1" height="1"/><rect x="660" y="614.80" width="1" height="1"/>
<rect x="87" y="617.20" width="1" height="1"/><rect x="660" y="617.20" width="1" height="1"/>
<rect x="87" y="619.60" width="1" height="1"/><rect x="660" y="619.60" width="1" height="1"/>
<rect x="87" y="622.00" width="1" height="1"/><rect x="660" y="622.00" width="1" height="1"/>
<rect x="87" y="624.40" width="1" height="1"/><rect x="660" y="624.40" width="1" height="1"/>
<rect x="87" y="626.80" width="1" height="1"/><rect x="660" y="626.80" width="1" height="1"/>
<rect x="87" y="629.20" width="1" height="1"/><rect x="660" y="629.20" width="1" height="1"/>
<rect x="87" y="631.60" width="1" height="1"/><rect x="660" y="631.60" width="1" height="1"/>
<rect x="87" y="634.00" width="1" height="1"/><rect x="660" y="634.00" width="1" height="1"/>
<rect x="87" y="636.40" width="1" height="1"/><rect x="660" y="636.40" width="1" height="1"/>
<rect x="87" y="638.80" width="1" height="1"/><rect x="660" y="638.80" width="1" height="1"/>
<rect x="87" y="641.20" width="1" height="1"/><rect x="660" y="641.20" width="1" height="1"/>
<rect x="87" y="643.60" width="1" height="1"/><rect x="660" y="643.60" width="1" height="1"/>
<rect x="87" y="646.00" width="1" height="1"/><rect x="660" y="646.00" width="1" height="1"/>
<rect x="87" y="648.40" width="1" height="1"/><rect x="660" y="648.40" width="1" height="1"/>
<rect x="87" y="650.80" width="1" height="1"/><rect x="660" y="650.80" width="1" height="1"/>
<rect x="87" y="653.20" width="1" height="1"/><rect x="660" y="653.20" width="1" height="1"/>
</g>
<g shape-rendering="crispEdges">
<rect x="91" y="609" width="1" height="3" fill="#e84057"/>
<rect x="96" y="608" width="1" height="4" fill="#e84057"/>
<rect x="101" y="608" width="1" height="4" fill="#e84057"/>
<rect x="106" y="608" width="1" height="4" fill="#e84057"/>
<rect x="111" y="609" width="1" height="3" fill="#e84057"/>
<rect x="116" y="611" width="1" height="1" fill="#4cb280"/>
<rect x="121" y="611" width="1" height="3" fill="#4cb280"/>
<rect x="126" y="611" width="1" height="1" fill="#4cb280"/>
<rect x="131" y="606" width="1" height="6" fill="#e84057"/>
<rect x="136" y="602" width="1" height="10" fill="#e84057"/>
<rect x="141" y="598" width="1" height="14" fill="#e84057"/>
<rect x="146" y="594" width="1" height="18" fill="#e84057"/>
<rect x="151" y="593" width="1" height="19" fill="#e84057"/>
<rect x="156" y="598" width="1" height="14" fill="#e84057"/>
<rect x="161" y="604" width="1" height="8" fill="#e84057"/>
<rect x="166" y="608" width="1" height="4" fill="#e84057"/>
<rect x="171" y="611" width="1" height="2" fill="#4cb280"/>
<rect x="176" y="611" width="1" height="5" fill="#4cb280"/>
<rect x="181" y="611" width="1" height="11" fill="#4cb280"/>
<rect x="186" y="611" width="1" height="13" fill="#4cb280"/>
<rect x="191" y="611" width="1" height="11" fill="#4cb280"/>
<rect x="196" y="611" width="1" height="9" fill="#4cb280"/>
<rect x="201" y="611" width="1" height="4" fill="#4cb280"/>
<rect x="206" y="609" width="1" height="3" fill="#e84057"/>
<rect x="211" y="607" width="1" height="5" fill="#e84057"/>
<rect x="216" y="606" width="1" height="6" fill="#e84057"/>
<rect x="221" y="610" width="1" height="2" fill="#e84057"/>
<rect x="226" y="611" width="1" height="5" fill="#4cb280"/>
<rect x="231" y="611" width="1" height="9" fill="#4cb280"/>
<rect x="236" y="611" width="1" height="11" fill="#4cb280"/>
<rect x="241" y="611" width="1" height="14" fill="#4cb280"/>
<rect x="246" y="611" width="1" height="16" fill="#4cb280"/>
<rect x="251" y="611" width="1" height="21" fill="#4cb280"/>
<rect x="256" y="611" width="1" height="22" fill="#4cb280"/>
<rect x="261" y="611" width="1" height="22" fill="#4cb280"/>
<rect x="266" y="611" width="1" height="20" fill="#4cb280"/>
<rect x="271" y="611" width="1" height="17" fill="#4cb280"/>
<rect x="276" y="611" width="1" height="21" fill="#4cb280"/>
<rect x="281" y="611" width="1" height="23" fill="#4cb280"/>
<rect x="286" y="611" width="1" height="24" fill="#4cb280"/>
<rect x="291" y="611" width="1" height="24" fill="#4cb280"/>
<rect x="296" y="611" width="1" height="23" fill="#4cb280"/>
<rect x="301" y="611" width="1" height="20" fill="#4cb280"/>
<rect x="306" y="611" width="1" height="16" fill="#4cb280"/>
<rect x="311" y="611" width="1" height="9" fill="#4cb280"/>
<rect x="316" y="611" width="1" height="10" fill="#4cb280"/>
<rect x="321" y="611" width="1" height="11" fill="#4cb280"/>
<rect x="326" y="611" width="1" height="11" fill="#4cb280"/>
<rect x="331" y="611" width="1" height="11" fill="#4cb280"/>
<rect x="336" y="611" width="1" height="9" fill="#4cb280"/>
<rect x="341" y="611" width="1" height="7" fill="#4cb280"/>
<rect x="346" y="611" width="1" height="3" fill="#4cb280"/>
<rect x="351" y="610" width="1" height="2" fill="#e84057"/>
<rect x="356" y="607" width="1" height="5" fill="#e84057"/>
<rect x="361" y="603" width="1" height="9" fill="#e84057"/>
<rect x="366" y="602" width="1" height="10" fill="#e84057"/>
<rect x="371" y="599" width="1" height="13" fill="#e84057"/>
<rect x="376" y="596" width="1" height="16" fill="#e84057"/>
<rect x="381" y="593" width="1" height="19" fill="#e84057"/>
<rect x="386" y="589" width="1" height="23" fill="#e84057"/>
<rect x="391" y="589" width="1" height="23" fill="#e84057"/>
<rect x="396" y="589" width="1" height="23" fill="#e84057"/>
<rect x="401" y="590" width="1" height="22" fill="#e84057"/>
<rect x="406" y="589" width="1" height="23" fill="#e84057"/>
<rect x="411" y="589" width="1" height="23" fill="#e84057"/>
<rect x="416" y="594" width="1" height="18" fill="#e84057"/>
<rect x="421" y="603" width="1" height="9" fill="#e84057"/>
<rect x="426" y="606" width="1" height="6" fill="#e84057"/>
<rect x="431" y="611" width="1" height="4" fill="#4cb280"/>
<rect x="436" y="611" width="1" height="16" fill="#4cb280"/>
<rect x="441" y="611" width="1" height="27" fill="#4cb280"/>
<rect x="446" y="611" width="1" height="45" fill="#4cb280"/>
<rect x="451" y="611" width="1" height="48" fill="#4cb280"/>
<rect x="456" y="611" width="1" height="48" fill="#4cb280"/>
<rect x="461" y="611" width="1" height="37" fill="#4cb280"/>
<rect x="466" y="611" width="1" height="23" fill="#4cb280"/>
<rect x="471" y="611" width="1" height="15" fill="#4cb280"/>
<rect x="476" y="611" width="1" height="5" fill="#4cb280"/>
<rect x="481" y="606" width="1" height="6" fill="#e84057"/>
<rect x="486" y="603" width="1" height="9" fill="#e84057"/>
<rect x="491" y="608" width="1" height="4" fill="#e84057"/>
<rect x="496" y="611" width="1" height="1" fill="#4cb280"/>
<rect x="501" y="611" width="1" height="1" fill="#4cb280"/>
<rect x="506" y="611" width="1" height="1" fill="#4cb280"/>
<rect x="511" y="611" width="1" height="1" fill="#4cb280"/>
<rect x="516" y="609" width="1" height="3" fill="#e84057"/>
<rect x="521" y="606" width="1" height="6" fill="#e84057"/>
<rect x="526" y="599" width="1" height="13" fill="#e84057"/>
<rect x="531" y="593" width="1" height="19" fill="#e84057"/>
<rect x="536" y="591" width="1" height="21" fill="#e84057"/>
<rect x="541" y="590" width="1" height="22" fill="#e84057"/>
<rect x="546" y="590" width="1" height="22" fill="#e84057"/>
<rect x="551" y="592" width="1" height="20" fill="#e84057"/>
<rect x="556" y="593" width="1" height="19" fill="#e84057"/>
<rect x="561" y="595" width="1" height="17" fill="#e84057"/>
<rect x="566" y="589" width="1" height="23" fill="#e84057"/>
<rect x="571" y="581" width="1" height="31" fill="#e84057"/>
<rect x="576" y="580" width="1" height="32" fill="#e84057"/>
<rect x="581" y="578" width="1" height="34" fill="#e84057"/>
<rect x="586" y="581" width="1" height="31" fill="#e84057"/>
<rect x="591" y="586" width="1" height="26" fill="#e84057"/>
<rect x="596" y="588" width="1" height="24" fill="#e84057"/>
<rect x="601" y="588" width="1" height="24" fill="#e84057"/>
<rect x="606" y="584" width="1" height="28" fill="#e84057"/>
<rect x="611" y="577" width="1" height="35" fill="#e84057"/>
<rect x="616" y="581" width="1" height="31" fill="#e84057"/>
<rect x="621" y="588" width="1" height="24" fill="#e84057"/>
<rect x="626" y="587" width="1" height="25" fill="#e84057"/>
<rect x="631" y="589" width="1" height="23" fill="#e84057"/>
</g>
<polyline points="91.5,593.2 96.5,593.2 101.5,593.0 106.5,592.8 111.5,592.6 116.5,592.6 121.5,592.8 126.5,592.8 131.5,592.0 136.5,590.5 141.5,588.5 146.5,586.4 151.5,584.4 156.5,582.9 161.5,582.3 166.5,582.3 171.5,582.7 176.5,583.3 181.5,584.8 186.5,586.4 191.5,587.9 196.5,588.9 201.5,589.5 206.5,589.1 211.5,588.5 216.5,587.9 221.5,587.9 226.5,588.3 231.5,589.3 236.5,591.0 241.5,592.2 246.5,594.1 251.5,596.7 256.5,599.2 261.5,601.9 266.5,604.4 271.5,606.6 276.5,609.5 281.5,612.6 286.5,615.7 291.5,618.4 296.5,621.1 301.5,623.6 306.5,625.6 311.5,626.2 316.5,627.7 321.5,629.1 326.5,630.8 331.5,632.2 336.5,633.3 341.5,633.9 346.5,633.9 351.5,633.5 356.5,632.8 361.5,632.2 366.5,631.2 371.5,629.3 376.5,626.7 381.5,624.0 386.5,621.5 391.5,619.4 396.5,617.4 401.5,614.7 406.5,612.2 411.5,609.5 416.5,607.7 421.5,606.6 426.5,606.0 431.5,607.1 436.5,608.7 441.5,612.2 446.5,619.4 451.5,625.6 456.5,630.8 461.5,634.9 466.5,637.0 471.5,639.0 476.5,639.4 481.5,639.4 486.5,638.6 491.5,638.4 496.5,638.4 501.5,638.4 506.5,638.4 511.5,638.4 516.5,638.4 521.5,638.4 526.5,636.6 531.5,634.3 536.5,631.8 541.5,628.7 546.5,626.0 551.5,623.6 556.5,621.5 561.5,619.4 566.5,616.7 571.5,613.7 576.5,610.1 581.5,605.0 586.5,601.5 591.5,598.4 596.5,595.7 601.5,593.0 606.5,590.1 611.5,586.4 616.5,582.9 621.5,579.8 626.5,576.7 631.5,574.0" fill="none" stroke="#3dbb7a" stroke-width="1" stroke-linejoin="round"/>
<polyline points="91.5,592.0 96.5,591.2 101.5,591.2 106.5,591.4 111.5,591.6 116.5,592.6 121.5,594.7 126.5,592.6 131.5,588.5 136.5,584.4 141.5,580.9 146.5,577.5 151.5,576.5 156.5,577.8 161.5,579.8 166.5,581.9 171.5,583.9 176.5,586.4 181.5,590.1 186.5,592.6 191.5,593.6 196.5,593.2 201.5,590.5 206.5,587.9 211.5,585.8 216.5,585.0 221.5,586.4 226.5,590.0 231.5,593.2 236.5,596.1 241.5,598.8 246.5,601.3 251.5,607.0 256.5,610.8 261.5,612.8 266.5,614.3 271.5,614.7 276.5,619.4 281.5,624.2 286.5,627.7 291.5,630.2 296.5,632.2 301.5,632.4 306.5,632.2 311.5,630.2 316.5,631.8 321.5,634.3 326.5,635.9 331.5,637.4 336.5,637.4 341.5,636.6 346.5,635.3 351.5,633.3 356.5,630.8 361.5,628.7 366.5,627.2 371.5,623.4 376.5,619.4 381.5,617.4 386.5,612.6 391.5,609.5 396.5,607.1 401.5,604.4 406.5,601.3 411.5,599.2 416.5,599.8 421.5,602.9 426.5,604.4 431.5,609.1 436.5,616.7 441.5,626.7 446.5,641.1 451.5,648.3 456.5,654.1 461.5,653.1 466.5,648.9 471.5,646.3 476.5,642.5 481.5,638.0 486.5,634.5 491.5,637.0 496.5,639.0 501.5,639.4 506.5,639.4 511.5,639.0 516.5,637.4 521.5,635.9 526.5,630.8 531.5,625.6 536.5,622.5 541.5,619.4 546.5,617.0 551.5,615.3 556.5,613.7 561.5,612.2 566.5,607.1 571.5,599.2 576.5,593.6 581.5,589.5 586.5,587.0 591.5,586.4 596.5,585.4 601.5,582.9 606.5,577.1 611.5,569.9 616.5,567.2 621.5,568.5 626.5,565.4 631.5,563.3" fill="none" stroke="#2f80f0" stroke-width="1" stroke-linejoin="round"/>
<g font-size="12" fill="#20263f">
<text x="84.6" y="566" text-anchor="end">0.6291</text><text x="662.7" y="566">0.6291</text>
<text x="84.6" y="590" text-anchor="end">0.3114</text><text x="662.7" y="590">0.3114</text>
<text x="84.6" y="614" text-anchor="end">-0.0064</text><text x="662.7" y="614">-0.0064</text>
<text x="84.6" y="638" text-anchor="end">-0.3242</text><text x="662.7" y="638">-0.3242</text>
</g>
<g fill="#ccd6e0" shape-rendering="crispEdges">
<rect x="85" y="562" width="3" height="1"/><rect x="660" y="562" width="2" height="1"/>
<rect x="85" y="586" width="3" height="1"/><rect x="660" y="586" width="2" height="1"/>
<rect x="85" y="610" width="3" height="1"/><rect x="660" y="610" width="2" height="1"/>
<rect x="85" y="634" width="3" height="1"/><rect x="660" y="634" width="2" height="1"/>
</g>
<g font-size="12">
<text x="90.5" y="554.1" fill="#111" textLength="85">MACD(26,12,9)</text>
<text x="180.5" y="554.1" fill="#3f8cf5" textLength="65.6">DIFF:0.6291</text>
<text x="255.2" y="554.1" fill="#4fc088" textLength="64.5">DEA:0.4856</text>
<text x="328.8" y="554.1" fill="#2ca8e0" textLength="75.3">MACD:0.2871</text>
</g>
<g shape-rendering="crispEdges"><g fill="#ff0000"><rect x="26" y="541" width="1" height="1"/><rect x="26" y="542" width="1" height="1"/><rect x="26" y="553" width="1" height="1"/><rect x="26" y="554" width="1" height="1"/><rect x="20" y="547" width="1" height="1"/><rect x="21" y="547" width="1" height="1"/><rect x="32" y="547" width="1" height="1"/><rect x="33" y="547" width="1" height="1"/><rect x="21" y="542" width="1" height="1"/><rect x="22" y="543" width="1" height="1"/><rect x="31" y="543" width="1" height="1"/><rect x="32" y="542" width="1" height="1"/><rect x="22" y="552" width="1" height="1"/><rect x="21" y="553" width="1" height="1"/><rect x="31" y="552" width="1" height="1"/><rect x="32" y="553" width="1" height="1"/><rect x="26" y="546" width="1" height="1"/><rect x="27" y="546" width="1" height="1"/><rect x="26" y="549" width="1" height="1"/><rect x="27" y="549" width="1" height="1"/><rect x="25" y="547" width="1" height="1"/><rect x="26" y="547" width="1" height="1"/><rect x="27" y="547" width="1" height="1"/><rect x="28" y="547" width="1" height="1"/><rect x="25" y="548" width="1" height="1"/><rect x="26" y="548" width="1" height="1"/><rect x="27" y="548" width="1" height="1"/><rect x="28" y="548" width="1" height="1"/></g><g fill="#000"><rect x="25" y="544" width="1" height="1"/><rect x="26" y="544" width="1" height="1"/><rect x="27" y="544" width="1" height="1"/><rect x="28" y="544" width="1" height="1"/><rect x="24" y="545" width="1" height="1"/><rect x="29" y="545" width="1" height="1"/><rect x="23" y="546" width="1" height="1"/><rect x="23" y="547" width="1" height="1"/><rect x="23" y="548" width="1" height="1"/><rect x="23" y="549" width="1" height="1"/><rect x="30" y="546" width="1" height="1"/><rect x="30" y="547" width="1" height="1"/><rect x="30" y="548" width="1" height="1"/><rect x="30" y="549" width="1" height="1"/><rect x="24" y="550" width="1" height="1"/><rect x="29" y="550" width="1" height="1"/><rect x="25" y="551" width="1" height="1"/><rect x="26" y="551" width="1" height="1"/><rect x="27" y="551" width="1" height="1"/><rect x="28" y="551" width="1" height="1"/></g></g>
<g shape-rendering="crispEdges" fill="#d3d7e0"><rect x="17" y="659" width="72" height="1"/><rect x="88" y="659" width="1" height="19"/></g>
<text x="31.6" y="674.2" font-family="'Liberation Sans','Noto Sans CJK SC',sans-serif" font-size="12.5" font-weight="bold" fill="#ff7f0a">日线</text>
<path d="M62.3 673.5H71.1L66.7 665.1Z" fill="#ff7f0a"/>
<g fill="#ccd6e0" shape-rendering="crispEdges">
<rect x="141" y="660" width="1" height="3"/>
<rect x="241" y="660" width="1" height="3"/>
<rect x="356" y="660" width="1" height="3"/>
<rect x="466" y="660" width="1" height="3"/>
<rect x="566" y="660" width="1" height="3"/>
</g>
<g font-size="12" font-weight="bold" fill="#20263f">
<text x="143.5" y="672">2025/11</text>
<text x="243.5" y="672">2025/12</text>
<text x="358.5" y="672">2026/01</text>
<text x="468.5" y="672">2026/02</text>
<text x="568.5" y="672">2026/03</text>
</g>
<defs><filter id="wb" x="-10%" y="-20%" width="120%" height="140%"><feGaussianBlur stdDeviation="0.6"/></filter></defs>
<g font-size="29.5" transform="translate(0,652.7) scale(1,1.065)"><text x="599.0 620.3000000000001 641.9000000000001 661.6 681.1" y="1.1" fill="#8c7860" opacity="0.5" filter="url(#wb)">FX678</text><text x="597.8 619.1 640.7 660.4 679.9" y="0" fill="#d6e3f3" opacity="0.82">FX678</text></g>
</svg></body></html>
